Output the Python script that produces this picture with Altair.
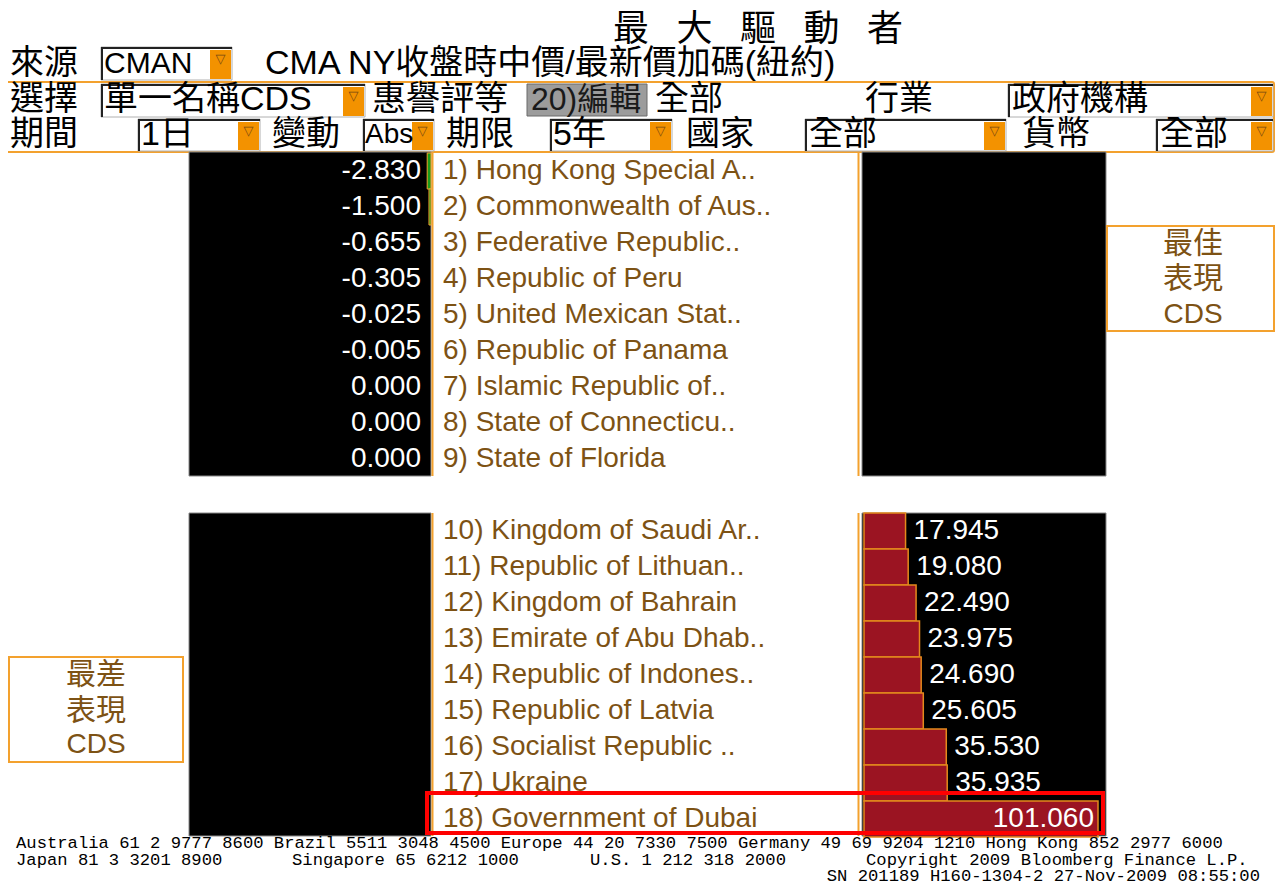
import altair as alt
import pandas as pd

# ---------------- data ----------------
best_names = ["Hong Kong Special A..", "Commonwealth of Aus..", "Federative Republic..",
              "Republic of Peru", "United Mexican Stat..", "Republic of Panama",
              "Islamic Republic of..", "State of Connecticu..", "State of Florida"]
best_values = [-2.830, -1.500, -0.655, -0.305, -0.025, -0.005, 0.000, 0.000, 0.000]

worst_names = ["Kingdom of Saudi Ar..", "Republic of Lithuan..", "Kingdom of Bahrain",
               "Emirate of Abu Dhab..", "Republic of Indones..", "Republic of Latvia",
               "Socialist Republic ..", "Ukraine", "Government of Dubai"]
worst_values = [17.945, 19.080, 22.490, 23.975, 24.690, 25.605, 35.530, 35.935, 101.060]

title_chars = ["最", "大", "驅", "動", "者"]
footer_line1 = "Australia 61 2 9777 8600 Brazil 5511 3048 4500 Europe 44 20 7330 7500 Germany 49 69 9204 1210 Hong Kong 852 2977 6000"
footer_line2 = ["Japan 81 3 3201 8900", "Singapore 65 6212 1000", "U.S. 1 212 318 2000",
                "Copyright 2009 Bloomberg Finance L.P."]
footer_line3 = "SN 201189 H160-1304-2 27-Nov-2009 08:55:00"

# ---------------- layout / style ----------------
OFF = 8
W, H = 1267, 873
UI = "Liberation Sans, Arimo, Noto Sans CJK TC, sans-serif"
CJK = "Noto Sans CJK TC, Liberation Sans, sans-serif"
MONO = "Liberation Mono, DejaVu Sans Mono, monospace"
BROWN = "#7d5214"
ORANGE = "#f3a12e"
DD = "#f39200"
RED_BAR = "#9b1422"
GREEN_BAR = "#1a9a1a"
HS = 34   # header CJK size
FS = 17.2  # footer size

one = pd.DataFrame({"a": [0]})

best = pd.DataFrame({"rank": list(range(1, 10)), "name": best_names, "value": best_values})
worst = pd.DataFrame({"rank": list(range(10, 19)), "name": worst_names, "value": worst_values})
best["slot"] = best["rank"]
worst["slot"] = worst["rank"] + 1
rows = pd.concat([best, worst], ignore_index=True)
rows["label"] = rows["rank"].astype(str) + ") " + rows["name"]
rows["vtxt"] = rows["value"].map(lambda v: f"{v:.3f}")
best = rows[rows["rank"] <= 9].copy()
worst = rows[rows["rank"] >= 10].copy()

Y_SCALE = alt.Scale(domain=[0.5, 19.5], range=[153 - OFF, 837 - OFF], nice=False, zero=False)
R_SCALE = alt.Scale(domain=[0, max(worst_values)], range=[864 - OFF, 1098 - OFF], nice=False, zero=False)
L_SCALE = alt.Scale(domain=[-180, 0], range=[189 - OFF, 431 - OFF], nice=False, zero=False)


def rect(x1, y1, x2, y2, **kw):
    return alt.Chart(one).mark_rect(**kw).encode(
        x=alt.value(x1 - OFF), x2=alt.value(x2 - OFF),
        y=alt.value(y1 - OFF), y2=alt.value(y2 - OFF))


def hrule(x1, x2, y, color, w):
    return alt.Chart(one).mark_rule(color=color, strokeWidth=w).encode(
        x=alt.value(x1 - OFF), x2=alt.value(x2 - OFF), y=alt.value(y - OFF))


def vrule(x, y1, y2, color, w):
    return alt.Chart(one).mark_rule(color=color, strokeWidth=w).encode(
        x=alt.value(x - OFF), y=alt.value(y1 - OFF), y2=alt.value(y2 - OFF))


def txt(s, x, y, size=HS, color="#000000", align="left", font=UI, weight="normal", baseline="middle"):
    return alt.Chart(one).mark_text(text=s, align=align, baseline=baseline, fontSize=size,
                                    color=color, font=font, fontWeight=weight).encode(
        x=alt.value(x - OFF), y=alt.value(y - OFF))


def input_box(x1, y1, x2, y2, dd=True):
    layers = [rect(x1, y1, x2, y2, fill="white", stroke="#b0b0b0", strokeWidth=1),
              hrule(x1, x2, y1 + 1, "#222222", 2),
              vrule(x1 + 1, y1, y2, "#222222", 2)]
    if dd:
        layers.append(rect(x2 - 22, y1 + 3, x2 - 1, y2 - 1, fill=DD))
        layers.append(txt("▽", x2 - 11.5, y1 + 12, size=13, color="#7a4a10", align="center", font="DejaVu Sans"))
    return layers


layers = []

# title
for i, ch in enumerate(title_chars):
    layers.append(txt(ch, 631 + i * 63.5, 30, size=36, font=CJK, align="center"))

# header rows
layers.append(txt("來源", 10, 64))
layers += input_box(101, 47, 232, 80)
layers.append(txt("CMAN", 104, 64, size=30))
layers.append(txt("CMA NY收盤時中價/最新價加碼(紐約)", 265, 64))

layers.append(rect(5, 82, 1274, 152, fill="white", stroke=ORANGE, strokeWidth=2, cornerRadius=2))

layers.append(txt("選擇", 10, 100))
layers += input_box(101, 84, 365, 117)
layers.append(txt("單一名稱CDS", 104, 100))
layers.append(txt("惠譽評等", 372, 100))
layers.append(rect(527, 84, 647, 116, fill="#9c9c9c", stroke="#6a6a6a", strokeWidth=1))
layers.append(txt("20)編輯", 531, 100, color="#1a1a1a", size=32))
layers.append(txt("全部", 655, 100))
layers.append(txt("行業", 865, 100))
layers += input_box(1008, 84, 1273, 117)
layers.append(txt("政府機構", 1012, 100))

layers.append(txt("期間", 10, 135))
layers += input_box(138, 119, 260, 151)
layers.append(txt("1日", 141, 135))
layers.append(txt("變動", 272, 135))
layers += input_box(363, 119, 434, 151)
layers.append(txt("Abs", 365, 135, size=28))
layers.append(txt("期限", 446, 135))
layers += input_box(550, 119, 672, 151)
layers.append(txt("5年", 553, 135))
layers.append(txt("國家", 686, 135))
layers += input_box(805, 119, 1006, 151)
layers.append(txt("全部", 809, 135))
layers.append(txt("貨幣", 1022, 135))
layers += input_box(1156, 119, 1273, 151)
layers.append(txt("全部", 1160, 135))

# panels
for (y1, y2) in [(152, 476), (513, 836)]:
    layers.append(rect(189, y1, 431, y2, fill="black", stroke="#888888", strokeWidth=1))
    layers.append(rect(862, y1, 1106, y2, fill="black", stroke="#888888", strokeWidth=1))
    layers.append(vrule(432.5, y1, y2, ORANGE, 2))
    layers.append(vrule(858.5, y1, y2, ORANGE, 2))

# side labels
layers.append(rect(1107, 226, 1274, 331, fill="white", stroke=ORANGE, strokeWidth=2))
layers.append(txt("最佳", 1193, 244, size=30, color=BROWN, align="center"))
layers.append(txt("表現", 1193, 279, size=30, color=BROWN, align="center"))
layers.append(txt("CDS", 1193, 315, size=28, color=BROWN, align="center"))
layers.append(rect(9, 657, 183, 762, fill="white", stroke=ORANGE, strokeWidth=2))
layers.append(txt("最差", 96, 675, size=30, color=BROWN, align="center"))
layers.append(txt("表現", 96, 711, size=30, color=BROWN, align="center"))
layers.append(txt("CDS", 96, 745, size=28, color=BROWN, align="center"))

# data layers
left_bars = alt.Chart(best).transform_filter("datum.value < 0").transform_calculate(
    lo="datum.slot - 0.5", hi="datum.slot + 0.5", z="0").mark_rect(
    fill=GREEN_BAR, strokeWidth=1).encode(
    x=alt.X("value:Q", scale=L_SCALE, axis=None), x2="z:Q",
    y=alt.Y("lo:Q", scale=Y_SCALE, axis=None), y2="hi:Q",
    stroke=alt.condition("datum.value <= -1", alt.value(ORANGE), alt.value(GREEN_BAR)),
    opacity=alt.condition("datum.value <= -1", alt.value(1), alt.value(0)))

right_bars = alt.Chart(worst).transform_calculate(
    lo="datum.slot - 0.5", hi="datum.slot + 0.5", z="0").mark_rect(
    fill=RED_BAR, stroke="#e4891c", strokeWidth=1.5).encode(
    x=alt.X("z:Q", scale=R_SCALE, axis=None), x2="value:Q",
    y=alt.Y("lo:Q", scale=Y_SCALE, axis=None), y2="hi:Q")

names = alt.Chart(rows).mark_text(align="left", baseline="middle", fontSize=28, font=UI, color=BROWN).encode(
    x=alt.value(443 - OFF), y=alt.Y("slot:Q", scale=Y_SCALE, axis=None), text="label:N")

left_vals = alt.Chart(best).mark_text(align="right", baseline="middle", fontSize=28, font=UI, color="white").encode(
    x=alt.value(421 - OFF), y=alt.Y("slot:Q", scale=Y_SCALE, axis=None), text="vtxt:N")

right_vals_out = alt.Chart(worst).transform_filter("datum.rank < 18").mark_text(
    align="left", baseline="middle", fontSize=28, font=UI, color="white", dx=8).encode(
    x=alt.X("value:Q", scale=R_SCALE, axis=None), y=alt.Y("slot:Q", scale=Y_SCALE, axis=None), text="vtxt:N")

right_vals_in = alt.Chart(worst).transform_filter("datum.rank == 18").mark_text(
    align="right", baseline="middle", fontSize=28, font=UI, color="white", dx=-4).encode(
    x=alt.X("value:Q", scale=R_SCALE, axis=None), y=alt.Y("slot:Q", scale=Y_SCALE, axis=None), text="vtxt:N")

layers += [left_bars, right_bars, names, left_vals, right_vals_out, right_vals_in]

# highlight
layers.append(rect(427, 793, 1103, 833, fillOpacity=0, stroke="#ff0000", strokeWidth=4))

# footer
layers.append(txt(footer_line1, 16, 843, size=FS, font=MONO))
for s, x in zip(footer_line2, [16, 292, 590, 866]):
    layers.append(txt(s, x, 860, size=FS, font=MONO))
layers.append(txt(footer_line3, 1260, 880.5, size=FS, font=MONO, align="right", baseline="alphabetic"))

chart = alt.layer(*layers).resolve_scale(x="independent").properties(
    width=W, height=H, autosize=alt.AutoSizeParams(type="none"), padding=0,
    background="white").configure_view(stroke=None)

chart.save("out.html", embed_options={"renderer": "svg", "actions": False})
